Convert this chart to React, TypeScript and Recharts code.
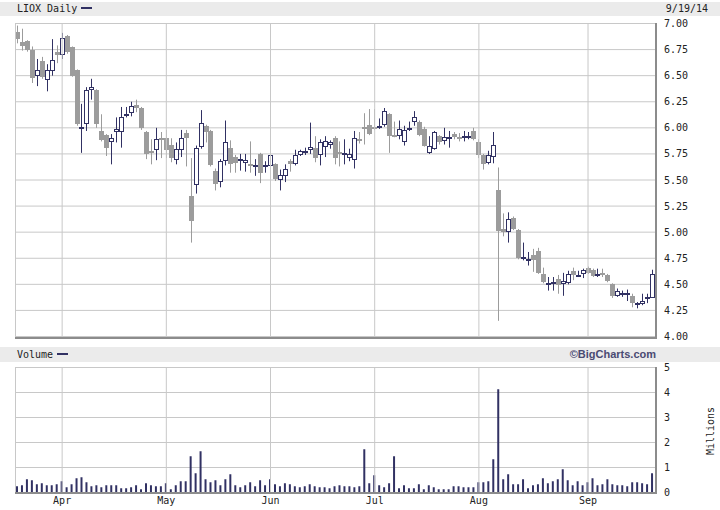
import React from 'react';
import { ComposedChart, BarChart, Bar, XAxis, YAxis, CartesianGrid, ReferenceLine } from 'recharts';

// LIOX daily, 3/19/14 - 9/19/14
const opens = [
  6.92, 6.82, 6.83, 6.75, 6.50, 6.64, 6.46, 6.54, 6.73, 6.70,
  6.88, 6.77, 6.55, 6.00, 6.04, 6.36, 6.36, 5.97, 5.93, 5.86,
  5.96, 5.96, 6.12, 6.14, 6.22, 6.19, 5.96, 5.78, 5.79, 5.89,
  5.90, 5.84, 5.69, 5.79, 5.95, 5.35, 5.45, 5.82, 6.02, 5.97,
  5.59, 5.48, 5.68, 5.81, 5.72, 5.69, 5.66, 5.64, 5.63, 5.75,
  5.63, 5.63, 5.65, 5.50, 5.54, 5.68, 5.65, 5.74, 5.76, 5.79,
  5.81, 5.74, 5.82, 5.84, 5.90, 5.76, 5.75, 5.71, 5.69, 5.89,
  6.00, 6.03, 6.00, 6.01, 6.03, 6.13, 5.925, 5.92, 5.86, 5.99,
  6.06, 6.06, 5.99, 5.76, 5.80, 5.92, 5.87, 5.89, 5.94, 5.905,
  5.90, 5.90, 5.97, 5.86, 5.74, 5.66, 5.72, 5.40, 5.03, 5.00,
  5.14, 5.02, 4.75, 4.73, 4.78, 4.82, 4.60, 4.49, 4.51, 4.55,
  4.50, 4.51, 4.63, 4.58, 4.60, 4.66, 4.64, 4.58, 4.595, 4.59,
  4.50, 4.39, 4.41, 4.41, 4.39, 4.31, 4.31, 4.36, 4.37,
];
const highs = [
  6.98, 6.95, 6.84, 6.78, 6.66, 6.68, 6.61, 6.85, 6.79, 6.91,
  6.89, 6.78, 6.56, 6.23, 6.39, 6.47, 6.37, 6.13, 5.94, 5.94,
  6.10, 6.20, 6.20, 6.25, 6.27, 6.20, 5.97, 5.89, 6.00, 5.96,
  5.98, 5.90, 5.86, 5.98, 5.98, 5.71, 5.83, 6.17, 6.03, 5.98,
  5.61, 5.70, 6.07, 5.88, 5.74, 5.75, 5.75, 5.87, 5.70, 5.76,
  5.68, 5.78, 5.66, 5.60, 5.65, 5.70, 5.79, 5.79, 5.81, 6.05,
  5.92, 5.89, 5.92, 5.88, 5.92, 5.87, 5.89, 5.80, 5.97, 5.96,
  6.14, 6.18, 6.18, 6.09, 6.19, 6.14, 6.06, 6.07, 6.02, 6.06,
  6.16, 6.07, 6.01, 5.92, 5.97, 5.93, 6.00, 5.97, 5.96, 5.95,
  5.97, 5.96, 6.00, 5.89, 5.75, 5.78, 5.96, 5.62, 5.18, 5.19,
  5.15, 5.03, 4.90, 4.81, 4.84, 4.85, 4.66, 4.57, 4.57, 4.59,
  4.61, 4.63, 4.66, 4.63, 4.65, 4.67, 4.65, 4.65, 4.65, 4.60,
  4.51, 4.46, 4.44, 4.45, 4.41, 4.33, 4.41, 4.41, 4.64,
];
const lows = [
  6.81, 6.74, 6.73, 6.43, 6.40, 6.47, 6.35, 6.50, 6.62, 6.66,
  6.71, 6.49, 6.02, 5.76, 5.97, 6.27, 6.00, 5.87, 5.73, 5.65,
  5.86, 5.81, 6.10, 6.11, 6.15, 5.98, 5.70, 5.65, 5.69, 5.71,
  5.71, 5.67, 5.65, 5.72, 5.63, 4.90, 5.37, 5.80, 5.86, 5.63,
  5.40, 5.43, 5.64, 5.57, 5.57, 5.59, 5.58, 5.57, 5.54, 5.47,
  5.57, 5.60, 5.49, 5.40, 5.48, 5.58, 5.64, 5.73, 5.74, 5.75,
  5.67, 5.64, 5.72, 5.80, 5.65, 5.63, 5.65, 5.68, 5.61, 5.85,
  5.84, 5.93, 5.98, 5.99, 6.01, 5.76, 5.91, 5.89, 5.83, 5.97,
  6.02, 5.92, 5.82, 5.75, 5.79, 5.84, 5.84, 5.81, 5.89, 5.87,
  5.87, 5.89, 5.88, 5.71, 5.60, 5.65, 5.66, 4.15, 4.96, 4.90,
  5.02, 4.74, 4.73, 4.68, 4.62, 4.60, 4.51, 4.44, 4.44, 4.41,
  4.39, 4.50, 4.54, 4.57, 4.56, 4.60, 4.57, 4.57, 4.57, 4.52,
  4.37, 4.38, 4.38, 4.34, 4.28, 4.27, 4.30, 4.32, 4.37,
];
const closes = [
  6.85, 6.78, 6.75, 6.48, 6.55, 6.49, 6.55, 6.65, 6.70, 6.86,
  6.73, 6.50, 6.04, 6.00, 6.36, 6.39, 6.04, 5.88, 5.81, 5.90,
  5.99, 6.10, 6.12, 6.21, 6.19, 6.00, 5.75, 5.76, 5.89, 5.88,
  5.79, 5.71, 5.80, 5.90, 5.90, 5.11, 5.81, 6.05, 5.96, 5.64,
  5.46, 5.68, 5.86, 5.65, 5.66, 5.69, 5.69, 5.63, 5.63, 5.57,
  5.63, 5.74, 5.51, 5.55, 5.61, 5.65, 5.74, 5.78, 5.78, 5.82,
  5.71, 5.86, 5.87, 5.86, 5.71, 5.75, 5.75, 5.75, 5.90, 5.87,
  5.995, 5.94, 5.99, 6.01, 6.16, 5.92, 5.92, 5.99, 5.98, 5.99,
  6.10, 5.93, 5.83, 5.83, 5.96, 5.86, 5.91, 5.90, 5.91, 5.90,
  5.92, 5.92, 5.89, 5.74, 5.65, 5.74, 5.84, 5.01, 5.00, 5.13,
  5.03, 4.75, 4.75, 4.73, 4.73, 4.61, 4.52, 4.51, 4.51, 4.49,
  4.53, 4.60, 4.59, 4.58, 4.64, 4.61, 4.58, 4.60, 4.59, 4.53,
  4.39, 4.44, 4.41, 4.41, 4.32, 4.31, 4.34, 4.37, 4.60,
];
// millions of shares
const volumes = [
  0.25, 0.29, 0.53, 0.49, 0.33, 0.37, 0.29, 0.29, 0.33, 0.45,
  0.21, 0.33, 0.57, 0.61, 0.41, 0.25, 0.29, 0.21, 0.29, 0.29,
  0.29, 0.17, 0.17, 0.21, 0.29, 0.13, 0.37, 0.29, 0.25, 0.25,
  0.37, 0.13, 0.29, 0.45, 0.45, 1.45, 0.77, 1.65, 0.53, 0.41,
  0.49, 0.29, 0.53, 0.73, 0.29, 0.21, 0.29, 0.41, 0.25, 0.49,
  0.29, 0.53, 0.33, 0.25, 0.37, 0.33, 0.25, 0.21, 0.25, 0.33,
  0.25, 0.21, 0.21, 0.17, 0.25, 0.29, 0.25, 0.25, 0.21, 0.25,
  1.73, 0.37, 0.69, 0.29, 0.21, 0.37, 1.45, 0.17, 0.29, 0.17,
  0.17, 0.33, 0.13, 0.29, 0.21, 0.13, 0.13, 0.13, 0.25, 0.25,
  0.21, 0.21, 0.21, 0.41, 0.41, 0.45, 1.33, 4.13, 0.53, 0.73,
  0.33, 0.33, 0.53, 0.17, 0.29, 0.33, 0.57, 0.37, 0.45, 0.53,
  0.93, 0.49, 0.29, 0.45, 0.29, 0.41, 0.57, 0.29, 0.33, 0.53,
  0.33, 0.29, 0.29, 0.25, 0.41, 0.41, 0.37, 0.33, 0.77,
];
const monthTicks = [9, 30, 51, 72, 93, 115];
const monthLabels = ['Apr', 'May', 'Jun', 'Jul', 'Aug', 'Sep'];
const priceTicks = [4, 4.25, 4.5, 4.75, 5, 5.25, 5.5, 5.75, 6, 6.25, 6.5, 6.75, 7];
const volumeTicks = [0, 1, 2, 3, 4, 5];

const data = opens.map((o, i) => ({ i, o, h: highs[i], l: lows[i], c: closes[i], v: volumes[i] }));

const NAVY = '#313163';
const GRAY = '#9c9c9c';
const GRID = '#c8c8c8';
const FRAME = '#8c8c8c';
const MONO = '"DejaVu Sans Mono", monospace';
const tickStyle = { fill: '#222', fontFamily: MONO, fontSize: 10 };

// candle drawn inside the [low, high] bar
const Candle = (props: any) => {
  const { x, y, width, height, payload } = props;
  const { o, h, l, c } = payload;
  const cx = Math.floor(x + width / 2) + 0.5;
  const k = height / (h - l);
  const yO = y + (h - o) * k;
  const yC = y + (h - c) * k;
  const up = c >= o;
  const color = up ? NAVY : GRAY;
  const top = Math.round(Math.min(yO, yC));
  const bot = Math.round(Math.max(yO, yC));
  let body;
  if (bot - top < 2) {
    body = <rect x={cx - 2.5} y={top - 1} width={5} height={2} fill={color} />;
  } else if (up) {
    body = <rect x={cx - 2} y={top + 0.5} width={4} height={bot - top - 1} fill="#fff" stroke={NAVY} strokeWidth={1} />;
  } else {
    body = <rect x={cx - 2.5} y={top} width={5} height={bot - top} fill={GRAY} />;
  }
  return (
    <g>
      <line x1={cx} x2={cx} y1={y} y2={y + height} stroke={color} strokeWidth={1} />
      {body}
    </g>
  );
};

const box = (left: number, top: number, width: number, height: number, bg: string) => (
  <div style={{ position: 'absolute', left, top, width, height, background: bg }} />
);

export default function App() {
  return (
    <div style={{ position: 'absolute', left: 0, top: 0, width: 720, height: 510, background: '#fff', overflow: 'hidden', fontFamily: MONO, color: '#222' }}>
      {/* header strip */}
      {box(0, 2, 720, 14, '#ebebeb')}
      <div style={{ position: 'absolute', left: 17, top: 2.5, fontSize: 10, lineHeight: '12px' }}>LIOX Daily</div>
      {box(81, 7, 11, 2, NAVY)}
      <div style={{ position: 'absolute', right: 12, top: 2.5, fontSize: 10, lineHeight: '12px' }}>9/19/14</div>

      {/* price panel */}
      <div style={{ position: 'absolute', left: 0, top: 0 }}>
        <ComposedChart width={720} height={345} data={data} margin={{ top: 23.5, right: 0, bottom: 8.5, left: 15 }} barCategoryGap={0}>
          <CartesianGrid stroke={GRID} vertical={false} />
          <XAxis dataKey="i" type="category" hide />
          <YAxis
            orientation="right"
            width={65}
            domain={[4, 7]}
            ticks={priceTicks}
            interval={0}
            axisLine={false}
            tickLine={false}
            tickSize={0}
            tickMargin={9}
            tick={tickStyle}
            tickFormatter={(v: number) => v.toFixed(2)}
          />
          {monthTicks.map((m) => (
            <ReferenceLine key={m} x={m} stroke={GRID} />
          ))}
          <Bar dataKey={(d: any) => [d.l, d.h]} shape={Candle} isAnimationActive={false} />
        </ComposedChart>
      </div>
      {box(15, 23, 1, 315, GRID)}
      {box(655, 23, 2, 316, FRAME)}
      {box(15, 337, 642, 2, FRAME)}

      {/* volume header strip */}
      {box(0, 347, 720, 15, '#ebebeb')}
      <div style={{ position: 'absolute', left: 17, top: 348.5, fontSize: 10, lineHeight: '12px' }}>Volume</div>
      {box(57, 353, 11, 2, NAVY)}
      <div style={{ position: 'absolute', right: 64, top: 348, fontSize: 11, lineHeight: '12px', fontFamily: '"Liberation Sans", Arial, sans-serif', fontWeight: 700, color: '#4a4a72' }}>
        ©BigCharts.com
      </div>

      {/* volume panel */}
      <div style={{ position: 'absolute', left: 0, top: 340 }}>
        <BarChart width={720} height={170} data={data} margin={{ top: 27.5, right: 0, bottom: 0, left: 15 }}>
          <CartesianGrid stroke={GRID} vertical={false} />
          <XAxis
            dataKey="i"
            type="category"
            height={17.5}
            ticks={monthTicks}
            interval={0}
            axisLine={false}
            tickLine={false}
            tickSize={0}
            tickMargin={4}
            tick={tickStyle}
            tickFormatter={(v: number) => monthLabels[monthTicks.indexOf(v)]}
          />
          <YAxis
            orientation="right"
            width={65}
            domain={[0, 5]}
            ticks={volumeTicks}
            interval={0}
            axisLine={false}
            tickLine={false}
            tickSize={0}
            tickMargin={9}
            tick={tickStyle}
          />
          {monthTicks.map((m) => (
            <ReferenceLine key={m} x={m} stroke={GRID} />
          ))}
          <Bar dataKey="v" fill={NAVY} barSize={2} isAnimationActive={false} />
        </BarChart>
      </div>
      {box(15, 367, 1, 126, GRID)}
      {box(655, 367, 2, 127, FRAME)}
      {box(15, 492, 642, 2, FRAME)}
      <div style={{ position: 'absolute', left: 681, top: 425, width: 60, height: 12, lineHeight: '12px', fontSize: 10, textAlign: 'center', transform: 'rotate(-90deg)' }}>
        Millions
      </div>
    </div>
  );
}
